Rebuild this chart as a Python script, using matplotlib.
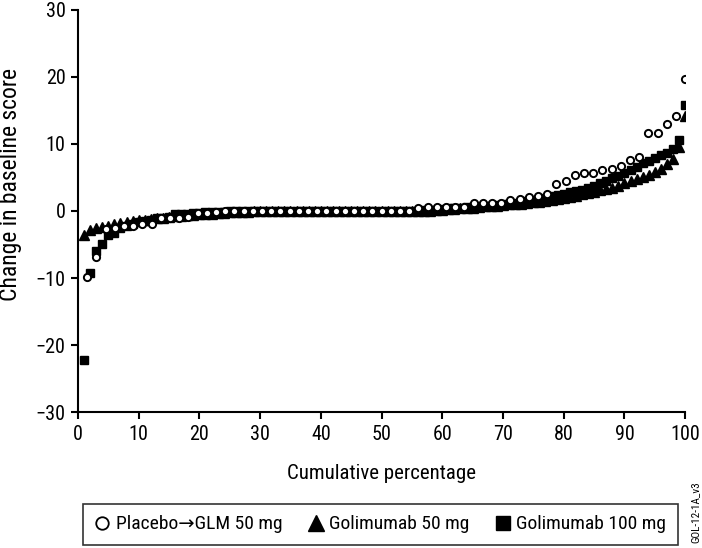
import matplotlib
matplotlib.use("Agg")
import matplotlib.pyplot as plt
from matplotlib.lines import Line2D

plt.rcParams["font.family"] = ["Roboto Condensed", "DejaVu Sans"]

# change in baseline score, sorted ascending; x is cumulative percentage of patients
placebo_glm50 = [
    -9.8, -6.9, -2.7, -2.6, -2.3, -2.3, -1.9, -1.9, -1.1, -1.0,
    -1.0, -0.9, -0.35, -0.3, -0.2, 0.0, 0.0, 0.0, 0.0, 0.0,
    0.0, 0.0, 0.0, 0.0, 0.0, 0.0, 0.0, 0.0, 0.0, 0.0,
    0.0, 0.0, 0.0, 0.0, 0.0, 0.0, 0.45, 0.65, 0.65, 0.65,
    0.65, 0.65, 1.25, 1.2, 1.2, 1.25, 1.6, 1.8, 2.1, 2.3,
    2.6, 4.0, 4.5, 5.3, 5.6, 5.6, 6.1, 6.3, 6.7, 7.6,
    8.0, 11.6, 11.6, 13.0, 14.2, 19.7,
]

golimumab_50 = [
    -3.6, -2.9, -2.5, -2.4, -2.2, -2.0, -1.8, -1.7, -1.5, -1.4,
    -1.3, -1.2, -1.1, -1.0, -0.9, -0.8, -0.7, -0.6, -0.6, -0.5,
    -0.4, -0.4, -0.3, -0.3, -0.2, -0.2, -0.1, -0.1, 0.0, 0.0,
    0.0, 0.0, 0.0, 0.0, 0.0, 0.0, 0.0, 0.0, 0.0, 0.0,
    0.0, 0.0, 0.0, 0.0, 0.0, 0.0, 0.0, 0.0, 0.0, 0.0,
    0.0, 0.0, 0.0, 0.0, 0.0, 0.0, 0.0, 0.0, 0.1, 0.2,
    0.3, 0.3, 0.4, 0.5, 0.5, 0.6, 0.7, 0.7, 0.8, 0.9,
    1.0, 1.0, 1.1, 1.2, 1.3, 1.4, 1.5, 1.7, 1.8, 2.0,
    2.1, 2.3, 2.5, 2.7, 2.9, 3.1, 3.3, 3.5, 3.8, 4.1,
    4.4, 4.7, 5.0, 5.4, 5.8, 6.2, 7.0, 7.8, 9.5, 14.1,
]

golimumab_100 = [
    -22.2, -9.2, -6.0, -5.0, -3.6, -3.3, -2.5, -2.2, -1.9, -1.7,
    -1.5, -1.3, -1.1, -1.0, -0.9, -0.5, -0.4, -0.4, -0.3, -0.3,
    -0.2, -0.2, -0.1, -0.1, 0.0, 0.0, 0.0, 0.0, 0.0, 0.0,
    0.0, 0.0, 0.0, 0.0, 0.0, 0.0, 0.0, 0.0, 0.0, 0.0,
    0.0, 0.0, 0.0, 0.0, 0.0, 0.0, 0.0, 0.0, 0.0, 0.0,
    0.0, 0.0, 0.0, 0.0, 0.0, 0.0, 0.1, 0.2, 0.2, 0.3,
    0.4, 0.4, 0.5, 0.6, 0.6, 0.7, 0.7, 0.8, 0.9, 1.0,
    1.1, 1.2, 1.3, 1.5, 1.6, 1.8, 2.0, 2.2, 2.4, 2.6,
    2.8, 3.0, 3.2, 3.5, 3.8, 4.1, 4.5, 4.9, 5.2, 5.6,
    6.1, 6.6, 7.1, 7.5, 7.9, 8.3, 8.7, 9.3, 10.6, 15.8,
]

labels = ["Placebo\u2192GLM 50 mg", "Golimumab 50 mg", "Golimumab 100 mg"]
x_ticks = [0, 10, 20, 30, 40, 50, 60, 70, 80, 90, 100]
y_ticks = [-30, -20, -10, 0, 10, 20, 30]


def cumulative_pct(values):
    n = len(values)
    return [100.0 * (i + 1) / n for i in range(n)]


fig = plt.figure(figsize=(7.02, 5.48), dpi=100)
ax = fig.add_axes([0.111, 0.248, 0.865, 0.734])

ax.plot(cumulative_pct(golimumab_50), golimumab_50, linestyle="none",
        marker="^", markersize=6.5, color="black", zorder=3)
ax.plot(cumulative_pct(golimumab_100), golimumab_100, linestyle="none",
        marker="s", markersize=5.8, color="black", zorder=4)
ax.plot(cumulative_pct(placebo_glm50), placebo_glm50, linestyle="none",
        marker="o", markersize=5.2, markerfacecolor="white",
        markeredgecolor="black", markeredgewidth=1.4, zorder=5)

ax.set_xlim(0, 100)
ax.set_ylim(-30, 30)
ax.set_xticks(x_ticks)
ax.set_yticks(y_ticks)
ax.set_yticklabels([str(t).replace("-", "\u2212") for t in y_ticks])
ax.spines["top"].set_visible(False)
ax.spines["right"].set_visible(False)
for side in ("left", "bottom"):
    ax.spines[side].set_linewidth(1.5)
ax.tick_params(direction="out", length=5, width=1.5, labelsize=14.5, pad=4)
ax.set_xlabel("Cumulative percentage", fontsize=15, labelpad=15)
ax.set_ylabel("Change in baseline score", fontsize=17)
ax.yaxis.set_label_coords(-0.092, 0.565)

handles = [
    Line2D([], [], linestyle="none", marker="o", markersize=9,
           markerfacecolor="white", markeredgecolor="black", markeredgewidth=1.3),
    Line2D([], [], linestyle="none", marker="^", markersize=11, color="black"),
    Line2D([], [], linestyle="none", marker="s", markersize=10, color="black"),
]
leg = fig.legend(handles, labels, loc="center", ncol=3,
                 bbox_to_anchor=(0.542, 0.043),
                 fontsize=14, frameon=True, fancybox=False,
                 handlelength=0.8, handletextpad=0.3, columnspacing=1.3,
                 borderpad=0.6, borderaxespad=0)
leg.get_frame().set_edgecolor("black")
leg.get_frame().set_linewidth(1.2)

fig.text(0.991, 0.066, "GOL-12-1A_v3", rotation=90, fontsize=8,
         ha="center", va="center")

fig.savefig("out.png", dpi=100)
